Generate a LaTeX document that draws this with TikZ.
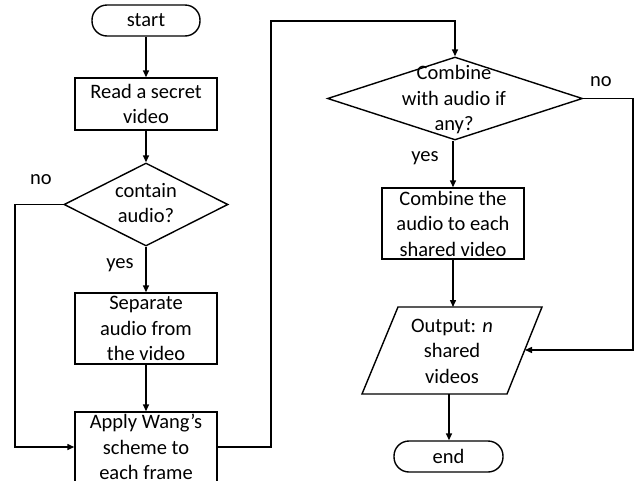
\documentclass[tikz,border=0pt]{standalone}
\usepackage{fontspec}
\setmainfont{Carlito}
\usetikzlibrary{arrows.meta,shapes.geometric}
\begin{document}
\begin{tikzpicture}[x=1pt,y=-1pt,
  line width=1.4pt,
  every node/.style={font=\fontsize{20.5}{25.5}\selectfont, align=center, inner sep=0pt},
  procbox/.style={draw, rectangle, minimum width=142pt},
  termbox/.style={draw, rectangle, rounded corners=15pt, minimum width=108pt, minimum height=31pt},
  decision/.style={draw, diamond, inner sep=0pt},
  arr/.style={-{Triangle[length=7pt,width=6pt]}},
  lbl/.style={}
]
\useasboundingbox (0,0) rectangle (638,480);

% left column
\node[termbox] (start) at (146,20.5) {start};
\node[procbox, minimum height=52pt] (read) at (146,104) {Read a secret\\video};
\node[decision, minimum width=164pt, minimum height=83pt] (d1) at (146,204.5) {};
\node (d1txt) at (146,203) {contain\\audio?};
\node[procbox, minimum height=71pt] (sep) at (146,328.5) {Separate\\audio from\\the video};
\node[procbox, minimum height=70pt] (apply) at (146,447) {Apply Wang’s\\scheme to\\each frame};

% right column
\node[decision, minimum width=255pt, minimum height=83pt] (d2) at (455,98.5) {};
\node (d2txt) at (454,100) {Combine\\with audio if\\any?};
\node[procbox, minimum height=71pt] (comb) at (453,223.5) {Combine the\\audio to each\\shared video};

% output parallelogram
\coordinate (o1) at (398,307);
\coordinate (o2) at (542,307);
\coordinate (o3) at (507,394);
\coordinate (o4) at (362,394);
\draw (o1) -- (o2) -- (o3) -- (o4) -- cycle;
\node (out) at (452,351) {Output: \textit{n}\\shared\\videos};
\coordinate (outT) at (453,307);
\coordinate (outB) at (449,394);
\coordinate (outR) at (525,350);

\node[termbox, minimum width=109pt] (end) at (448.5,456.5) {end};

% branch labels
\node[lbl] (no1) at (41,180) {no};
\node[lbl] (yes1) at (120,265) {yes};
\node[lbl] (no2) at (601,82) {no};
\node[lbl] (yes2) at (425,158) {yes};

% turning points of the long connectors
\coordinate (l1) at (15,447);
\coordinate (t1) at (271,21);
\coordinate (r1) at (633,350);

% connectors
\draw[arr] (start) -- (read);
\draw[arr] (read) -- (d1.north);
\draw[arr] (d1.south) -- (sep);
\draw[arr] (sep) -- (apply);
\draw[arr] (d1.west) -| (l1) -- (apply.west);
\draw[arr] (apply.east) -| (t1) -| (d2.north);
\draw[arr] (d2.south -| comb.north) -- (comb.north);
\draw[arr] (comb.south) -- (outT);
\draw[arr] (d2.east) -| (r1) -- (outR);
\draw[arr] (outB) -- (end.north -| outB);
\end{tikzpicture}
\end{document}
